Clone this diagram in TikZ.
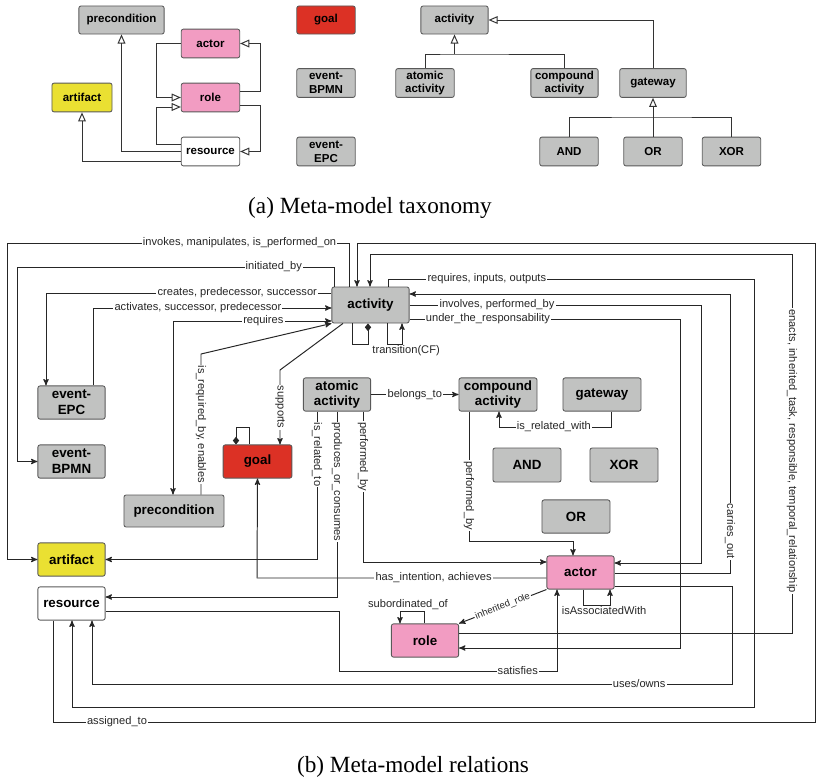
\documentclass[tikz,border=0pt]{standalone}
\usepackage{fontspec}
\setmainfont{Liberation Serif}
\setsansfont{Liberation Sans}
\usetikzlibrary{arrows,arrows.meta}

\definecolor{boxgrey}{HTML}{C1C2C1}
\definecolor{goalred}{HTML}{DC3125}
\definecolor{actpink}{HTML}{F29CC2}
\definecolor{artyellow}{HTML}{EAE032}

\tikzset{
  ent/.style={draw=black!65, line width=0.6pt, rounded corners=1.5pt, align=center, inner sep=0pt, fill=boxgrey},
  entA/.style={ent, minimum width=1.46cm, minimum height=0.72cm, font=\sffamily\bfseries\fontsize{8.2}{9.8}\selectfont},
  entB/.style={ent, minimum width=1.68cm, minimum height=0.83cm, font=\sffamily\bfseries\fontsize{9.5}{11.2}\selectfont},
  isa/.style={-{Triangle[open, length=6.5pt, width=5.5pt]}, line width=0.7pt, black!80},
  rel/.style={->, >=stealth', line width=0.7pt, black!85},
  part/.style={-{Diamond[length=5.5pt, width=4.5pt]}, line width=0.7pt, black!85},
  lbl/.style={fill=white, inner sep=0.8pt, text=black!85, font=\sffamily\fontsize{7.9}{8}\selectfont},
  capt/.style={font=\fontsize{16.5}{18}\selectfont},
}

\begin{document}
\begin{tikzpicture}[x=0.025cm, y=-0.025cm]
\useasboundingbox (0,0) rectangle (817,784);

% (a) taxonomy
\node[entA, minimum width=2.13cm, minimum height=0.7cm] (aPre) at (121.5,20) {precondition};
\node[entA, fill=actpink] (aActor) at (210.5,43.5) {actor};
\node[entA, fill=actpink] (aRole) at (210.5,97.5) {role};
\node[entA, fill=artyellow, minimum width=1.5cm] (aArt) at (82,97.5) {artifact};
\node[entA, fill=white] (aRes) at (210.5,151.5) {resource};
\node[entA, fill=goalred, minimum height=0.7cm] (aGoal) at (326,20) {goal};
\node[entA] (aBpmn) at (326,83) {event-\\BPMN};
\node[entA] (aEpc) at (326,151.5) {event-\\EPC};
\node[entA, minimum width=1.68cm, minimum height=0.7cm] (aAct) at (454.5,20) {activity};
\node[entA] (aAtom) at (425,83) {atomic\\activity};
\node[entA, minimum width=1.68cm] (aComp) at (564.5,83) {compound\\activity};
\node[entA, minimum width=1.66cm] (aGate) at (653,83) {gateway};
\node[entA] (aAnd) at (569,151.5) {AND};
\node[entA] (aOr) at (653,151.5) {OR};
\node[entA] (aXor) at (731.5,151.5) {XOR};

\draw[isa] (aActor.west) -- (156,43.5) |- (aRole.west);
\draw[isa] (aRole.east |- 0,91) -- (260,91) |- (aActor.east);
\draw[isa] (aRes.west |- 0,144) -- (156,144) |- (aRole.west |- 0,107);
\draw[isa] (aRole.east |- 0,105) -- (260,105) |- (aRes.east);
\draw[isa] (aRes.west |- 0,151) -| (aPre.south);
\draw[isa] (aRes.west |- 0,161) -| (aArt.south);
\coordinate (aJoin) at (aAct.south |- 0,54);
\draw[line width=0.7pt, black!80] (aAtom.north) |- (aJoin) -| (aComp.north);
\draw[isa] (aJoin) -- (aAct.south);
\draw[isa] (aGate.north) |- (aAct.east);
\draw[line width=0.7pt, black!80] (aAnd.north) |- (aOr.north |- 0,117) -| (aXor.north);
\draw[isa] (aOr.north) -- (aGate.south);

\node[capt] (capA) at (370,208) {(a) Meta-model taxonomy};

% (b) relations
\node[entB, minimum width=1.93cm, minimum height=0.9cm] (act) at (370.5,305) {activity};
\node[entB] (epc) at (71.5,402.5) {event-\\EPC};
\node[entB] (bpmn) at (71.5,461.5) {event-\\BPMN};
\node[entB, minimum width=2.5cm, minimum height=0.8cm] (pre) at (174,511) {precondition};
\node[entB, fill=goalred, minimum width=1.72cm] (goal) at (257.5,461.5) {goal};
\node[entB] (atom) at (337,394.5) {atomic\\activity};
\node[entB, minimum width=1.95cm] (comp) at (498,394.5) {compound\\activity};
\node[entB, minimum width=1.95cm] (gate) at (602,394.5) {gateway};
\node[entB, minimum width=1.7cm, minimum height=0.85cm] (andB) at (527,465) {AND};
\node[entB, minimum width=1.7cm, minimum height=0.85cm] (xorB) at (624,465) {XOR};
\node[entB, minimum width=1.7cm] (orB) at (576,516.5) {OR};
\node[entB, fill=artyellow] (art) at (71.5,559.5) {artifact};
\node[entB, fill=white] (res) at (71.5,603.5) {resource};
\node[entB, fill=actpink] (actor) at (580.5,572.5) {actor};
\node[entB, fill=actpink] (role) at (425,640.5) {role};

\draw[rel] (act.north -| 349,0) -- (349,243) -- node[lbl, pos=.32]{invokes, manipulates, is\_performed\_on} (7,243) |- (art.west);
\draw[rel] (act.north -| 334,0) -- (334,267) -- node[lbl, pos=.19]{initiated\_by} (17,267) |- (bpmn.west);
\draw[rel] (act.west |- 0,293) -- node[lbl, pos=.33]{creates, predecessor, successor} (46,293) -- (epc.north -| 46,0);
\draw[rel] (epc.north -| 93,0) -- (93,308) -- node[lbl, pos=.44]{activates, successor, predecessor} (act.west |- 0,308);
\draw[rel, <->] (pre.north -| 173,0) -- (173,321) -- node[lbl, pos=.57]{requires} (act.west |- 0,321);
\draw[rel] (pre.north -| 201,0) -- node[lbl, rotate=-90]{is\_required\_by, enables} (201,354) -- (act.south west);
\draw[rel] (act.south -| 343,0) -- (280,370) -- node[lbl, rotate=-90]{supports} (goal.north -| 280,0);
\draw[part] (act.south -| 352,0) -- (352,344) -- (368,344) -- (act.south -| 368,0);
\draw[rel] (act.south -| 387,0) -- (387,344) -- node[lbl, fill=none, below=0pt, xshift=0.29cm]{transition(CF)} (402,344) -- (act.south -| 402,0);
\draw[part] (goal.north -| 249,0) -- (249,427) -- (236,427) -- (goal.north -| 236,0);

\draw[rel] (atom.east) -- node[lbl]{belongs\_to} (comp.west);
\draw[rel] (gate.south -| 611,0) -- (611,427) -- node[lbl, pos=.51]{is\_related\_with} (499,427) -- (comp.south -| 499,0);
\draw[rel] (comp.south -| 469,0) -- node[lbl, rotate=-90, pos=.65]{performed\_by} (469,541) -| (actor.north -| 573,0);
\draw[rel] (atom.south -| 317,0) -- node[lbl, rotate=-90, pos=.29]{is\_related\_to} (art.east -| 317,0) -- (art.east);
\draw[rel] (atom.south -| 337,0) -- node[lbl, rotate=-90, pos=.38]{produces\_or\_consumes} (337,597) -- (res.east |- 0,597);
\draw[rel] (atom.south -| 363,0) -- node[lbl, rotate=-90, pos=.3]{performed\_by} (363,562) -- (actor.west |- 0,562);
\draw[rel] (actor.west |- 0,578) -- node[lbl, pos=.39]{has\_intention, achieves} (257,578) -- (goal.south);

\draw[rel] (res.east |- 0,611) -- (339,611) -- (339,671) -- node[lbl, pos=.82]{satisfies} (557,671) -- (actor.south -| 557,0);
\draw[rel] (actor.south -| 583,0) -- (583,605) -- node[lbl, fill=none, below=0pt, xshift=0.19cm]{isAssociatedWith} (610,605) -- (actor.south -| 610,0);
\draw[rel] (actor.south west) -- node[lbl, sloped, font=\sffamily\fontsize{6.8}{7}\selectfont]{inherited\_role} (role.north east);
\draw[rel] (role.north -| 424,0) -- (424,611) -- node[lbl, fill=none, above=0pt, xshift=-0.1cm]{subordinated\_of} (400,611) -- (role.north -| 400,0);
\draw[rel] (actor.east |- 0,586) -- (732,586) -- (732,684) -- node[lbl, pos=.145]{uses/owns} (92,684) -- (res.south -| 92,0);

\draw[rel] (act.north -| 388,0) -- (388,279) -- node[lbl, pos=.27]{requires, inputs, outputs} (754,279) -- (754,707) -- (72,707) -- (res.south -| 72,0);
\draw[rel] (actor.east |- 0,573) -- (730,573) -- node[lbl, rotate=-90, pos=.15]{carries\_out} (730,294) -- (act.east |- 0,294);
\draw[rel] (act.east |- 0,305) -- node[lbl, pos=.3]{involves, performed\_by} (701,305) -- (701,563) -- (actor.east |- 0,563);
\draw[rel] (act.east |- 0,319) -- node[lbl, pos=.29]{under\_the\_responsability} (680,319) -- (680,648) -- (role.east |- 0,648);
\draw[rel] (role.east |- 0,633) -- (792,633) -- node[lbl, rotate=-90, pos=.48]{enacts, inherited\_task, responsible, temporal\_relationship} (792,254) -- (370,254) -- (act.north -| 370,0);
\draw[rel] (res.south -| 53,0) -- (53,722) -- node[lbl, pos=.084]{assigned\_to} (815,722) -- (815,243) -- (357,243) -- (act.north -| 357,0);

\node[capt] (capB) at (413,767) {(b) Meta-model relations};
\end{tikzpicture}
\end{document}
